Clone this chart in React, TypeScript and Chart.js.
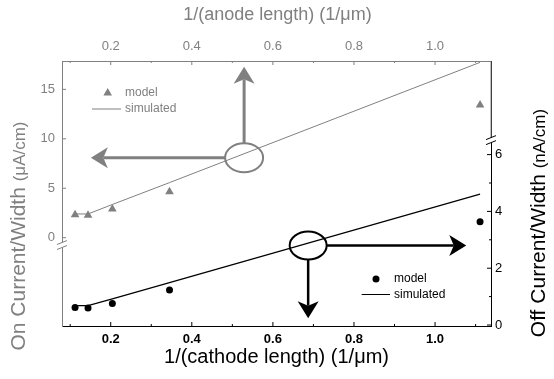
import React, { useEffect, useRef } from 'react';
import { Chart, registerables } from 'chart.js';

Chart.register(...registerables);

// ---- data ----
const invLength = [0.112, 0.144, 0.204, 0.345, 1.111];
const onModel = [2.33, 2.27, 2.9, 4.64, 13.42];
const onSimulated = [2.4, 2.4, 3.36, 5.57, 17.73];
const offModel = [0.62, 0.6, 0.76, 1.23, 3.64];
const offSimulated = [0.68, 0.68, 0.92, 1.49, 4.61];

const xMajor = [0.2, 0.4, 0.6, 0.8, 1.0];
const xMinor = [0.1, 0.3, 0.5, 0.7, 0.9, 1.1];
const onMajor = [0, 5, 10, 15];
const offMajor = [0, 2, 4, 6];
const offMinor = [1, 3, 5];

const X_MIN = 0.0798;
const X_MAX = 1.138;
const ON_MIN = -8.93;
const ON_MAX = 17.87;
const OFF_MIN = -0.035;
const OFF_MAX = 9.296;

// annotation anchors (data coordinates)
const onMark = { x: 0.529, y: 8.09, upTo: 17.29, leftTo: 0.151 };
const offMark = { x: 0.687, y: 2.8, downTo: 0.24, rightTo: 1.077 };
const leftBreak = -0.74;
const rightBreak = 6.51;

const GRAY = '#808080';
const BLACK = '#000000';
const FONT = 'Arial, "Liberation Sans", sans-serif';

function line(ctx: CanvasRenderingContext2D, x1: number, y1: number, x2: number, y2: number, color: string, w = 1) {
  ctx.beginPath();
  ctx.strokeStyle = color;
  ctx.lineWidth = w;
  ctx.moveTo(x1, y1);
  ctx.lineTo(x2, y2);
  ctx.stroke();
}

function arrow(ctx: CanvasRenderingContext2D, x0: number, y0: number, x1: number, y1: number, color: string, w: number) {
  const len = Math.hypot(x1 - x0, y1 - y0);
  const ux = (x1 - x0) / len;
  const uy = (y1 - y0) / len;
  const nx = -uy;
  const ny = ux;
  const headLen = 17;
  const half = 10.5;
  const notch = 4.5;
  line(ctx, x0, y0, x1 - ux * (headLen - notch), y1 - uy * (headLen - notch), color, w);
  ctx.beginPath();
  ctx.fillStyle = color;
  ctx.moveTo(x1, y1);
  ctx.lineTo(x1 - ux * headLen + nx * half, y1 - uy * headLen + ny * half);
  ctx.lineTo(x1 - ux * (headLen - notch), y1 - uy * (headLen - notch));
  ctx.lineTo(x1 - ux * headLen - nx * half, y1 - uy * headLen - ny * half);
  ctx.closePath();
  ctx.fill();
}

function mixedTitle(ctx: CanvasRenderingContext2D, cx: number, cy: number, big: string, small: string, color: string) {
  ctx.save();
  ctx.translate(cx, cy);
  ctx.rotate(-Math.PI / 2);
  ctx.fillStyle = color;
  ctx.textBaseline = 'alphabetic';
  ctx.textAlign = 'left';
  const bigFont = `21px ${FONT}`;
  const smallFont = `17px ${FONT}`;
  ctx.font = bigFont;
  const w1 = ctx.measureText(big).width;
  ctx.font = smallFont;
  const w2 = ctx.measureText(small).width;
  const start = -(w1 + w2) / 2;
  ctx.font = bigFont;
  ctx.fillText(big, start, 7.5);
  ctx.font = smallFont;
  ctx.fillText(small, start + w1, 7.5);
  ctx.restore();
}

const decor = {
  id: 'decor',
  afterDraw(chart: any) {
    const { ctx, chartArea: ca, scales } = chart;
    const xb = scales.x;
    const xt = scales.x2;
    const yl = scales.y;
    const yr = scales.y2;
    ctx.save();

    // right axis upper segment belongs to the gray layer
    const rb = yr.getPixelForValue(rightBreak);
    line(ctx, ca.right, ca.top, ca.right, rb, GRAY, 1);

    // inward ticks
    xMajor.forEach((v) => {
      const pb = xb.getPixelForValue(v);
      line(ctx, pb, ca.bottom, pb, ca.bottom - 4, BLACK);
      const pt = xt.getPixelForValue(v);
      line(ctx, pt, ca.top, pt, ca.top + 4, GRAY);
    });
    xMinor.forEach((v) => {
      const pb = xb.getPixelForValue(v);
      line(ctx, pb, ca.bottom, pb, ca.bottom - 2, BLACK);
      const pt = xt.getPixelForValue(v);
      line(ctx, pt, ca.top, pt, ca.top + 2, GRAY);
    });
    onMajor.forEach((v) => {
      const p = yl.getPixelForValue(v);
      line(ctx, ca.left, p, ca.left + 4, p, GRAY);
    });
    offMajor.forEach((v) => {
      const p = yr.getPixelForValue(v);
      line(ctx, ca.right, p, ca.right - 4, p, BLACK);
    });
    offMinor.forEach((v) => {
      const p = yr.getPixelForValue(v);
      line(ctx, ca.right, p, ca.right - 2, p, BLACK);
    });

    // axis breaks
    const drawBreak = (x: number, y: number, color: string) => {
      ctx.fillStyle = '#ffffff';
      ctx.fillRect(x - 3, y - 2.5, 6, 5);
      line(ctx, x - 5, y - 0.5, x + 5, y - 4.5, color, 1);
      line(ctx, x - 5, y + 4.5, x + 5, y + 0.5, color, 1);
    };
    drawBreak(ca.left, yl.getPixelForValue(leftBreak), GRAY);
    drawBreak(ca.right, rb, BLACK);

    // upper annotation (gray)
    const ux = xt.getPixelForValue(onMark.x);
    const uy = yl.getPixelForValue(onMark.y);
    const erx = 19;
    const ery = 14.5;
    ctx.beginPath();
    ctx.strokeStyle = GRAY;
    ctx.lineWidth = 2;
    ctx.ellipse(ux, uy, erx, ery, 0, 0, Math.PI * 2);
    ctx.stroke();
    arrow(ctx, ux, uy - ery, ux, yl.getPixelForValue(onMark.upTo), GRAY, 3);
    arrow(ctx, ux - erx, uy, xt.getPixelForValue(onMark.leftTo), uy, GRAY, 3);

    // lower annotation (black)
    const lx = xb.getPixelForValue(offMark.x);
    const ly = yr.getPixelForValue(offMark.y);
    ctx.beginPath();
    ctx.strokeStyle = BLACK;
    ctx.lineWidth = 2;
    ctx.ellipse(lx, ly, 18.5, 14, 0, 0, Math.PI * 2);
    ctx.stroke();
    arrow(ctx, lx, ly + 14, lx, yr.getPixelForValue(offMark.downTo), BLACK, 2.5);
    arrow(ctx, lx + 18.5, ly, xb.getPixelForValue(offMark.rightTo), ly, BLACK, 2.5);

    // legends
    ctx.font = `12px ${FONT}`;
    ctx.textBaseline = 'middle';
    ctx.textAlign = 'left';
    // upper legend
    ctx.fillStyle = GRAY;
    ctx.beginPath();
    ctx.moveTo(107.7, 88);
    ctx.lineTo(112, 95.5);
    ctx.lineTo(103.4, 95.5);
    ctx.closePath();
    ctx.fill();
    ctx.fillText('model', 125, 92.5);
    line(ctx, 92, 109, 121, 109, GRAY, 1);
    ctx.fillStyle = GRAY;
    ctx.fillText('simulated', 125, 109);
    // lower legend
    ctx.fillStyle = BLACK;
    ctx.beginPath();
    ctx.arc(376, 279, 3.5, 0, Math.PI * 2);
    ctx.fill();
    ctx.fillText('model', 394, 279);
    line(ctx, 361.7, 294.5, 390, 294.5, BLACK, 1);
    ctx.fillStyle = BLACK;
    ctx.fillText('simulated', 394, 294.5);

    // axis titles
    const cx = (ca.left + ca.right) / 2;
    ctx.textAlign = 'center';
    ctx.textBaseline = 'middle';
    ctx.font = `18px ${FONT}`;
    ctx.fillStyle = GRAY;
    ctx.fillText('1/(anode length) (1/\u03bcm)', cx + 1, 15);
    ctx.font = `20px ${FONT}`;
    ctx.fillStyle = BLACK;
    ctx.fillText('1/(cathode length) (1/\u03bcm)', cx, 357);
    mixedTitle(ctx, 17, 236, 'On Current/Width ', '(\u03bcA/cm)', GRAY);
    mixedTitle(ctx, 537, 223, 'Off Current/Width ', '(nA/cm)', BLACK);

    ctx.restore();
  },
};

export default function App() {
  const ref = useRef<HTMLCanvasElement | null>(null);

  useEffect(() => {
    if (!ref.current) return;
    const pts = (ys: number[]) => invLength.map((x, i) => ({ x, y: ys[i] }));
    const fmt = (v: any) => Number(v).toFixed(1);
    const chart = new Chart(ref.current, {
      type: 'scatter',
      data: {
        datasets: [
          {
            label: 'on model',
            data: pts(onModel),
            xAxisID: 'x2',
            yAxisID: 'y',
            pointStyle: 'triangle',
            pointRadius: 5,
            backgroundColor: GRAY,
            borderColor: GRAY,
            borderWidth: 0,
            showLine: false,
          },
          {
            label: 'on simulated',
            data: pts(onSimulated),
            xAxisID: 'x2',
            yAxisID: 'y',
            showLine: true,
            borderColor: GRAY,
            borderWidth: 1,
            pointRadius: 0,
            tension: 0,
          },
          {
            label: 'off model',
            data: pts(offModel),
            xAxisID: 'x',
            yAxisID: 'y2',
            pointStyle: 'circle',
            pointRadius: 3.5,
            backgroundColor: BLACK,
            borderColor: BLACK,
            borderWidth: 0,
            showLine: false,
          },
          {
            label: 'off simulated',
            data: pts(offSimulated),
            xAxisID: 'x',
            yAxisID: 'y2',
            showLine: true,
            borderColor: BLACK,
            borderWidth: 1.2,
            pointRadius: 0,
            tension: 0,
          },
        ],
      },
      options: {
        animation: false,
        responsive: false,
        devicePixelRatio: 1,
        layout: { padding: 0 },
        plugins: { legend: { display: false }, tooltip: { enabled: false } },
        scales: {
          x: {
            type: 'linear',
            position: 'bottom',
            min: X_MIN,
            max: X_MAX,
            afterFit: (s: any) => { s.height = 53; },
            afterBuildTicks: (s: any) => { s.ticks = xMajor.map((v) => ({ value: v })); },
            ticks: { callback: fmt, color: BLACK, font: { family: FONT, size: 13, weight: 'bold' }, padding: 6, maxRotation: 0, autoSkip: false },
            grid: { display: false, drawTicks: false },
            border: { display: true, color: BLACK, width: 1 },
          },
          x2: {
            type: 'linear',
            position: 'top',
            min: X_MIN,
            max: X_MAX,
            afterFit: (s: any) => { s.height = 61; },
            afterBuildTicks: (s: any) => { s.ticks = xMajor.map((v) => ({ value: v })); },
            ticks: { callback: fmt, color: GRAY, font: { family: FONT, size: 13 }, padding: 7, maxRotation: 0, autoSkip: false },
            grid: { display: false, drawTicks: false },
            border: { display: true, color: GRAY, width: 1 },
          },
          y: {
            type: 'linear',
            position: 'left',
            min: ON_MIN,
            max: ON_MAX,
            afterFit: (s: any) => { s.width = 62; },
            afterBuildTicks: (s: any) => { s.ticks = onMajor.map((v) => ({ value: v })); },
            ticks: { color: GRAY, font: { family: FONT, size: 13 }, padding: 7 },
            grid: { display: false, drawTicks: false },
            border: { display: true, color: GRAY, width: 1 },
          },
          y2: {
            type: 'linear',
            position: 'right',
            min: OFF_MIN,
            max: OFF_MAX,
            afterFit: (s: any) => { s.width = 63; },
            afterBuildTicks: (s: any) => { s.ticks = offMajor.map((v) => ({ value: v })); },
            ticks: { color: BLACK, font: { family: FONT, size: 13 }, padding: 4 },
            grid: { display: false, drawTicks: false },
            border: { display: true, color: BLACK, width: 1 },
          },
        },
      },
      plugins: [decor],
    } as any);
    return () => chart.destroy();
  }, []);

  return (
    <div style={{ position: 'absolute', left: 0, top: 0, width: 554, height: 379, background: '#fff' }}>
      <canvas ref={ref} width={554} height={379} style={{ display: 'block', width: 554, height: 379 }} />
    </div>
  );
}
